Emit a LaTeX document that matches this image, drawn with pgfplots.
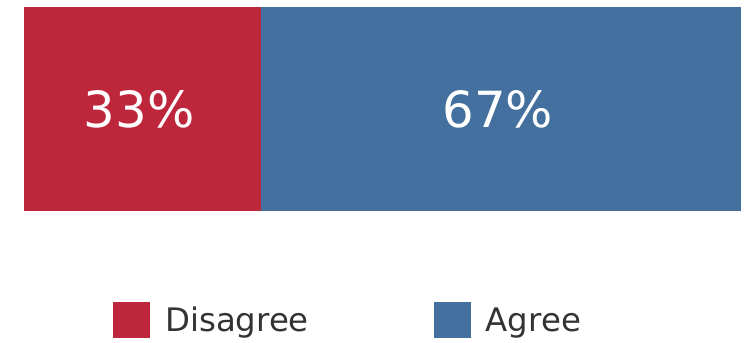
\documentclass[border=0pt]{standalone}
\usepackage{pgfplots}
\pgfplotsset{compat=1.18}
\usepackage{fontspec}
\setmainfont{DejaVu Sans}
\definecolor{dred}{RGB}{190,38,60}
\definecolor{dblue}{RGB}{67,112,158}
\definecolor{ltext}{RGB}{51,51,51}
\begin{document}
\begin{tikzpicture}
\useasboundingbox (0,0) rectangle (754bp,343bp);
\begin{axis}[
  at={(24bp,132bp)}, anchor=south west,
  scale only axis, width=717bp, height=204bp,
  xbar stacked, bar width=204bp,
  xmin=0, xmax=100, ymin=-0.5, ymax=0.5,
  hide axis,
  visualization depends on=rawx \as \rawx,
  nodes near coords={\pgfmathprintnumber[assume math mode=true]{\rawx}\%},
  every node near coord/.append style={anchor=center, xshift=-3bp, font=\fontsize{50}{50}\selectfont, text=white},
  legend columns=2,
  legend image code/.code={\fill[#1] (0bp,-18bp) rectangle (37bp,18bp);},
  legend style={draw=none, fill=none, at={(axis description cs:0.12,0)}, anchor=west, yshift=-109bp,
    font=\fontsize{32.5}{32.5}\selectfont, text=ltext,
    /tikz/every odd column/.append style={column sep=13bp},
    /tikz/every even column/.append style={column sep=123bp}},
]
\addplot[fill=dred, draw=none] coordinates {(33,0)};
\addplot[fill=dblue, draw=none] coordinates {(67,0)};
\legend{Disagree, Agree}
\end{axis}
\end{tikzpicture}
\end{document}
